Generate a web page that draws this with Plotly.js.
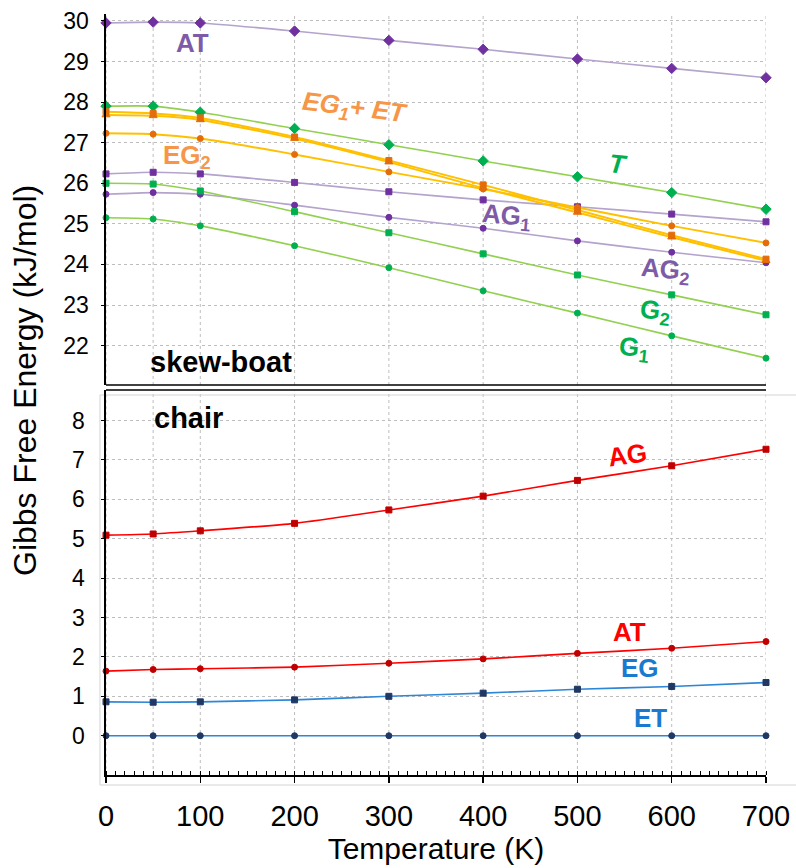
<!DOCTYPE html>
<html>
<head>
<meta charset="utf-8">
<script src="https://cdn.plot.ly/plotly-3.0.1.min.js"></script>
<style>html,body{margin:0;padding:0;background:#fff;}#chart{width:796px;height:868px;}</style>
</head>
<body>
<div id="chart"></div>
<script>
// ---- data (temperature in K, Gibbs free energy in kJ/mol) ----
const temps = [0, 50, 100, 200, 300, 400, 500, 600, 700];
const xTickVals = [0, 100, 200, 300, 400, 500, 600, 700];
const yTicksTop = [22, 23, 24, 25, 26, 27, 28, 29, 30];
const yTicksBottom = [0, 1, 2, 3, 4, 5, 6, 7, 8];

// skew-boat conformers
const skewAT  = [29.95, 29.97, 29.95, 29.75, 29.52, 29.30, 29.06, 28.83, 28.60];
const skewT   = [27.90, 27.90, 27.75, 27.35, 26.95, 26.55, 26.16, 25.77, 25.36];
const skewEG1 = [27.76, 27.72, 27.61, 27.14, 26.56, 25.96, 25.34, 24.72, 24.13];
const skewET  = [27.68, 27.66, 27.56, 27.10, 26.52, 25.88, 25.28, 24.67, 24.09];
const skewEG2 = [27.23, 27.21, 27.10, 26.71, 26.28, 25.86, 25.40, 24.95, 24.53];
const skewAG1 = [26.23, 26.27, 26.23, 26.02, 25.79, 25.59, 25.42, 25.24, 25.05];
const skewG2  = [26.00, 25.98, 25.81, 25.30, 24.78, 24.26, 23.74, 23.25, 22.76];
const skewAG2 = [25.73, 25.77, 25.73, 25.46, 25.16, 24.89, 24.58, 24.30, 24.04];
const skewG1  = [25.15, 25.12, 24.95, 24.46, 23.92, 23.35, 22.80, 22.24, 21.69];

// chair conformers
const chairAG = [5.09, 5.12, 5.20, 5.39, 5.73, 6.08, 6.48, 6.85, 7.27];
const chairAT = [1.64, 1.68, 1.70, 1.74, 1.84, 1.95, 2.09, 2.22, 2.39];
const chairEG = [0.86, 0.85, 0.86, 0.91, 1.00, 1.08, 1.18, 1.25, 1.35];
const chairET = [0, 0, 0, 0, 0, 0, 0, 0, 0];

// ---- styles ----
const FONT = '"Liberation Sans", Arial, sans-serif';
const C = {
  purpleLine: '#B4A3CC', purpleMk: '#7030A0', purpleTxt: '#7D5BA6',
  greenLine: '#92D050', greenMk: '#00B050', greenTxt: '#00B050',
  orangeLine: '#FFC000', orangeMk: '#E46C0A', orangeTxt: '#F79646',
  redLine: '#FF0000', redMk: '#C00000', redTxt: '#FF0000',
  blueLine: '#2E86D6', blueMk: '#1F3864', blueTxt: '#1A7AD0',
  grid: '#BDBDBD'
};

function tr(y, ax, lineColor, mkColor, symbol, size, lw) {
  return {
    x: temps, y: y, xaxis: ax === 'top' ? 'x2' : 'x', yaxis: ax === 'top' ? 'y2' : 'y',
    type: 'scatter', mode: 'lines+markers', cliponaxis: false, showlegend: false,
    line: {color: lineColor, width: lw || 1.6, shape: 'spline', smoothing: 0.6},
    marker: {color: mkColor, symbol: symbol, size: size || 6, line: {color: mkColor, width: 1}},
    hoverinfo: 'x+y'
  };
}

const data = [
  tr(skewAT, 'top', C.purpleLine, C.purpleMk, 'diamond', 8),
  tr(skewAG1, 'top', C.purpleLine, C.purpleMk, 'square', 6),
  tr(skewAG2, 'top', C.purpleLine, C.purpleMk, 'circle', 6),
  tr(skewT, 'top', C.greenLine, C.greenMk, 'diamond', 8),
  tr(skewG2, 'top', C.greenLine, C.greenMk, 'square', 6),
  tr(skewG1, 'top', C.greenLine, C.greenMk, 'circle', 6),
  tr(skewEG2, 'top', C.orangeLine, C.orangeMk, 'circle', 6, 2),
  tr(skewET, 'top', C.orangeLine, C.orangeMk, 'triangle-up', 7, 2),
  tr(skewEG1, 'top', C.orangeLine, C.orangeMk, 'square', 6, 2),
  tr(chairAG, 'bot', C.redLine, C.redMk, 'square', 6),
  tr(chairAT, 'bot', C.redLine, C.redMk, 'circle', 6),
  tr(chairEG, 'bot', C.blueLine, C.blueMk, 'square', 6),
  tr(chairET, 'bot', C.blueLine, C.blueMk, 'circle', 6)
];

// vertical dotted grid lines at each measured temperature
const shapes = [];
temps.forEach(t => {
  shapes.push({type: 'line', xref: 'x', yref: 'y domain', x0: t, x1: t, y0: 0, y1: 1,
    line: {color: C.grid, width: 1, dash: 'dot'}, layer: 'below'});
  shapes.push({type: 'line', xref: 'x2', yref: 'y2 domain', x0: t, x1: t, y0: 0, y1: 1,
    line: {color: C.grid, width: 1, dash: 'dot'}, layer: 'below'});
});
// axis break: double line
shapes.push({type: 'line', xref: 'x domain', yref: 'y2 domain', x0: 0, x1: 1, y0: 0, y1: 0,
  line: {color: '#000', width: 1.6}});
shapes.push({type: 'line', xref: 'x domain', yref: 'y domain', x0: 0, x1: 1, y0: 1, y1: 1,
  line: {color: '#000', width: 1.6}});
// light chart-area border of the lower chart
shapes.push({type: 'rect', xref: 'paper', yref: 'paper', x0: 0.1256, x1: 1.002, y0: 0.0956, y1: 0.5449,
  line: {color: '#D4D4D4', width: 1}, fillcolor: 'rgba(0,0,0,0)', layer: 'below'});

function lab(text, x, y, ax, color, angle) {
  return {text: '<b>' + text + '</b>', x: x, y: y,
    xref: ax === 'top' ? 'x2' : 'x', yref: ax === 'top' ? 'y2' : 'y',
    showarrow: false, textangle: angle || 0, xanchor: 'center', yanchor: 'middle',
    font: {family: FONT, size: 26, color: color}};
}

const annotations = [
  lab('AT', 92, 29.45, 'top', C.purpleTxt, 0),
  lab('<i>EG<sub>1</sub>+ ET</i>', 264, 27.85, 'top', C.orangeTxt, 7),
  lab('EG<sub>2</sub>', 86, 26.65, 'top', C.orangeTxt, 0),
  lab('<i>T</i>', 543, 26.47, 'top', C.greenTxt, 6),
  lab('AG<sub>1</sub>', 425, 25.19, 'top', C.purpleTxt, 5),
  lab('AG<sub>2</sub>', 593, 23.86, 'top', C.purpleTxt, 5),
  lab('G<sub>2</sub>', 582, 22.83, 'top', C.greenTxt, 6),
  lab('G<sub>1</sub>', 560, 21.92, 'top', C.greenTxt, 6),
  lab('AG', 553, 7.12, 'bot', C.redTxt, -8),
  lab('AT', 555, 2.63, 'bot', C.redTxt, 0),
  lab('EG', 566, 1.72, 'bot', C.blueTxt, 0),
  lab('ET', 578, 0.45, 'bot', C.blueTxt, 0),
  {text: '<b>skew-boat</b>', x: 122, y: 21.60, xref: 'x2', yref: 'y2', showarrow: false,
    xanchor: 'center', yanchor: 'middle', font: {family: FONT, size: 29, color: '#000'}},
  {text: '<b>chair</b>', x: 87, y: 8.06, xref: 'x', yref: 'y', showarrow: false,
    xanchor: 'center', yanchor: 'middle', font: {family: FONT, size: 29, color: '#000'}},
  {text: 'Gibbs Free Energy (kJ/mol)', x: 0.0314, y: 0.5622, xref: 'paper', yref: 'paper',
    xanchor: 'center', yanchor: 'middle',
    showarrow: false, textangle: -90, font: {family: FONT, size: 32, color: '#000'}}
];

const yCommon = {
  showline: true, linecolor: '#000', linewidth: 1.6, ticks: 'outside', ticklen: 3,
  tickcolor: '#000', tickwidth: 1, showgrid: true, gridcolor: C.grid, griddash: 'dot',
  gridwidth: 1, zeroline: false, tickfont: {family: FONT, size: 23, color: '#000'},
  ticklabelstandoff: 8
};

const layout = {
  width: 796, height: 868,
  margin: {l: 0, r: 0, t: 0, b: 0},
  paper_bgcolor: '#fff', plot_bgcolor: 'rgba(0,0,0,0)',
  font: {family: FONT, color: '#000'},
  xaxis: {
    domain: [0.13317, 0.96231], range: [0, 700], anchor: 'y',
    tickvals: xTickVals, ticks: 'outside', ticklen: 6, tickwidth: 1.5, tickcolor: '#000',
    showline: true, linecolor: '#000', linewidth: 1.6, showgrid: false, zeroline: false,
    minor: {dtick: 10, ticks: 'inside', ticklen: 4, tickcolor: '#000', tickwidth: 1, showgrid: false},
    tickfont: {family: FONT, size: 29, color: '#000'}, ticklabelstandoff: 9,
    title: {text: 'Temperature (K)', font: {family: FONT, size: 30, color: '#000'}, standoff: 4}
  },
  xaxis2: {
    domain: [0.13317, 0.96231], range: [0, 700], anchor: 'y2', matches: 'x',
    showticklabels: false, ticks: '', showline: false, showgrid: false, zeroline: false
  },
  yaxis: Object.assign({}, yCommon, {
    domain: [0.10714, 0.55069], range: [-0.997, 8.774], anchor: 'x', tickvals: yTicksBottom,
    ticklabelstandoff: 12
  }),
  yaxis2: Object.assign({}, yCommon, {
    domain: [0.5565, 0.98387], range: [21.03, 30.17], anchor: 'x2', tickvals: yTicksTop
  }),
  shapes: shapes,
  annotations: annotations
};

Plotly.newPlot('chart', data, layout, {staticPlot: true, displayModeBar: false});
</script>
</body>
</html>
